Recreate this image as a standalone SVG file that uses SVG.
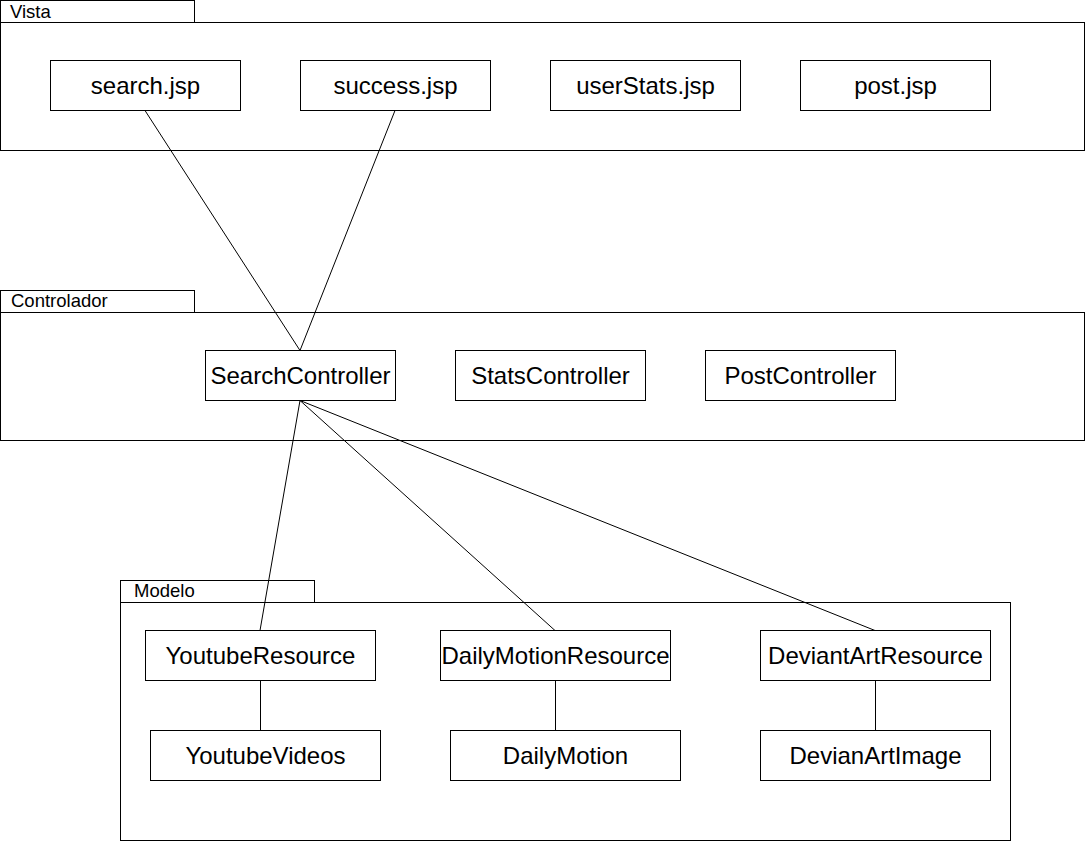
<svg xmlns="http://www.w3.org/2000/svg" width="1085" height="841" viewBox="0 0 1085 841">
<style>
.pkg{fill:#fff;stroke:#000;stroke-width:1}
.box{fill:#fff;stroke:#000;stroke-width:1}
.lbl{font-family:"Liberation Sans",Arial,sans-serif;font-size:24px;fill:#000;text-anchor:middle;dominant-baseline:central}
.plbl{font-family:"Liberation Sans",Arial,sans-serif;font-size:18.5px;fill:#000}
.edge{stroke:#000;stroke-width:1;fill:none}
</style>
<rect width="1085" height="841" fill="#fff"/>
<g id="pkg-vista">
<rect class="pkg" x="0.5" y="0.5" width="194" height="22"/>
<rect class="pkg" x="0.5" y="22.5" width="1084" height="128"/>
<text class="plbl" x="10" y="18">Vista</text>
</g>
<g id="pkg-controlador">
<rect class="pkg" x="0.5" y="290.5" width="194" height="22"/>
<rect class="pkg" x="0.5" y="312.5" width="1084" height="128"/>
<text class="plbl" x="11" y="307">Controlador</text>
</g>
<g id="pkg-modelo">
<rect class="pkg" x="120.5" y="580.5" width="194" height="22"/>
<rect class="pkg" x="120.5" y="602.5" width="890" height="238"/>
<text class="plbl" x="134" y="597">Modelo</text>
</g>
<g id="connectors">
<line class="edge" x1="145" y1="110.5" x2="300" y2="350.5"/>
<line class="edge" x1="395" y1="110.5" x2="300" y2="350.5"/>
<line class="edge" x1="300" y1="400.5" x2="260" y2="630.5"/>
<line class="edge" x1="300" y1="400.5" x2="555" y2="630.5"/>
<line class="edge" x1="300" y1="400.5" x2="875" y2="630.5"/>
<line class="edge" x1="260.5" y1="680.5" x2="260.5" y2="730.5"/>
<line class="edge" x1="555.5" y1="680.5" x2="555.5" y2="730.5"/>
<line class="edge" x1="875.5" y1="680.5" x2="875.5" y2="730.5"/>
</g>
<g id="search-jsp"><rect class="box" x="50.5" y="60.5" width="190" height="50"/><text class="lbl" x="145.5" y="85">search.jsp</text></g>
<g id="success-jsp"><rect class="box" x="300.5" y="60.5" width="190" height="50"/><text class="lbl" x="395.5" y="85">success.jsp</text></g>
<g id="userStats-jsp"><rect class="box" x="550.5" y="60.5" width="190" height="50"/><text class="lbl" x="645.5" y="85">userStats.jsp</text></g>
<g id="post-jsp"><rect class="box" x="800.5" y="60.5" width="190" height="50"/><text class="lbl" x="895.5" y="85">post.jsp</text></g>
<g id="SearchController"><rect class="box" x="205.5" y="350.5" width="190" height="50"/><text class="lbl" x="300.5" y="375">SearchController</text></g>
<g id="StatsController"><rect class="box" x="455.5" y="350.5" width="190" height="50"/><text class="lbl" x="550.5" y="375">StatsController</text></g>
<g id="PostController"><rect class="box" x="705.5" y="350.5" width="190" height="50"/><text class="lbl" x="800.5" y="375">PostController</text></g>
<g id="YoutubeResource"><rect class="box" x="145.5" y="630.5" width="230" height="50"/><text class="lbl" x="260.5" y="655">YoutubeResource</text></g>
<g id="DailyMotionResource"><rect class="box" x="440.5" y="630.5" width="230" height="50"/><text class="lbl" x="555.5" y="655">DailyMotionResource</text></g>
<g id="DeviantArtResource"><rect class="box" x="760.5" y="630.5" width="230" height="50"/><text class="lbl" x="875.5" y="655">DeviantArtResource</text></g>
<g id="YoutubeVideos"><rect class="box" x="150.5" y="730.5" width="230" height="50"/><text class="lbl" x="265.5" y="755">YoutubeVideos</text></g>
<g id="DailyMotion"><rect class="box" x="450.5" y="730.5" width="230" height="50"/><text class="lbl" x="565.5" y="755">DailyMotion</text></g>
<g id="DevianArtImage"><rect class="box" x="760.5" y="730.5" width="230" height="50"/><text class="lbl" x="875.5" y="755">DevianArtImage</text></g>
</svg>
